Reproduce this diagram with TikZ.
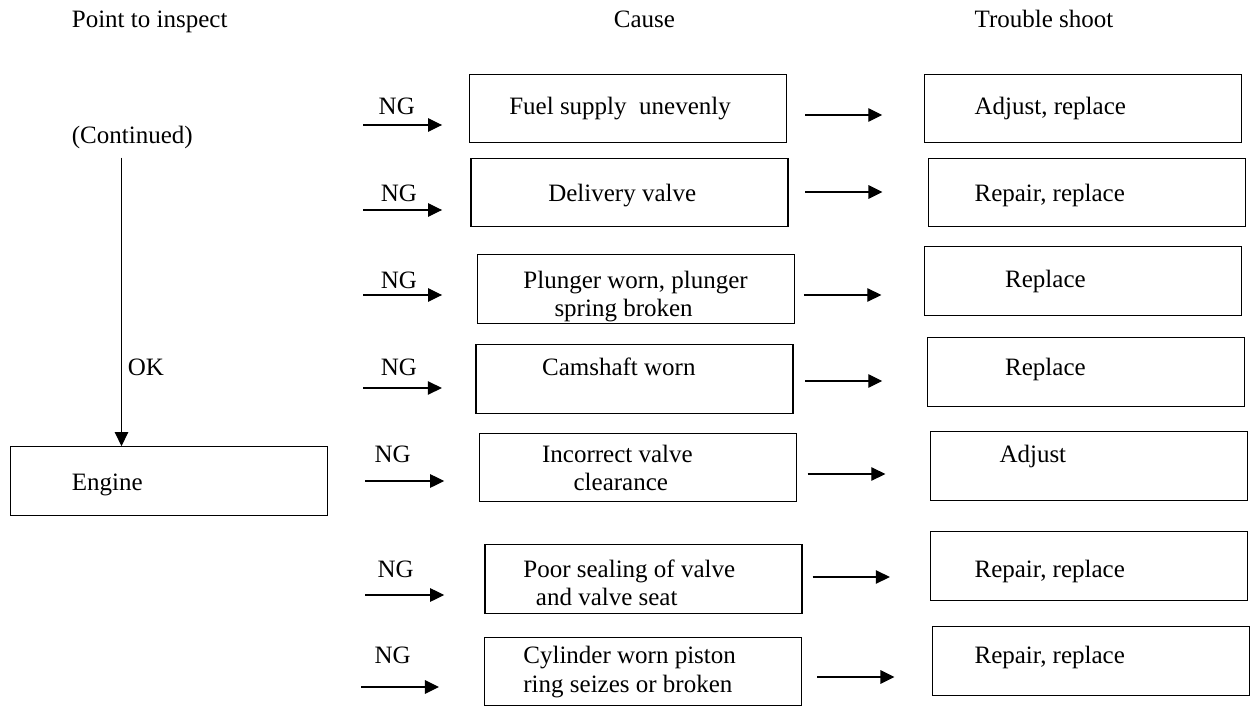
\documentclass[tikz,border=0pt]{standalone}
\usepackage{fontspec}
\setmainfont{Liberation Serif}
\usetikzlibrary{arrows.meta}
\begin{document}
\begin{tikzpicture}[x=1bp,y=-1bp,
  box/.style={draw,line width=1.3bp,minimum width=317bp,minimum height=68.5bp,inner sep=0pt},
  txt/.style={inner sep=0pt,anchor=base west,font=\fontsize{25bp}{28bp}\selectfont},
  arr/.style={line width=1.2bp,-{Triangle[length=14bp,width=13.5bp]}}]
\useasboundingbox (0,0) rectangle (1251,713);
% headers
\node[txt] (h1) at (71.7,28) {Point to inspect};
\node[txt] (h2) at (613.7,28) {Cause};
\node[txt] (h3) at (974.4,28) {Trouble shoot};
% left column
\node[txt] (contd) at (71.7,144) {(Continued)};
\node[box] (engine) at (169,481) {};
\node[txt] (enginet) at (71.7,490) {Engine};
\coordinate (vx) at (121.5,0);
\draw[arr] (contd.south -| vx) ++(0,8) -- (engine.north -| vx);
\node[txt] (ok) at (127.7,375) {OK};
% cause boxes
\node[box] (c1) at (628.2,108.5) {};
\node[box] (c2) at (629.4,192.5) {};
\node[box] (c3) at (636,289) {};
\node[box] (c4) at (634.6,379) {};
\node[box] (c5) at (638.1,467.5) {};
\node[box] (c6) at (643.5,579) {};
\node[box] (c7) at (643.3,671.5) {};
\node[txt] (c1t) at (509.1,115) {Fuel supply\ \ unevenly};
\node[txt] (c2t) at (548.1,202) {Delivery valve};
\node[txt] (c3t) at (523.2,288) {Plunger worn, plunger};
\node[txt] (c3u) at (554.3,316) {spring broken};
\node[txt] (c4t) at (541.9,375) {Camshaft worn};
\node[txt] (c5t) at (541.9,462) {Incorrect valve};
\node[txt] (c5u) at (573.4,490) {clearance};
\node[txt] (c6t) at (523.2,577) {Poor sealing of valve};
\node[txt] (c6u) at (535.7,605) {and valve seat};
\node[txt] (c7t) at (523.2,663) {Cylinder worn piston};
\node[txt] (c7u) at (523.2,692) {ring seizes or broken};
% trouble boxes
\node[box] (t1) at (1083.2,108.5) {};
\node[box] (t2) at (1086.8,192.5) {};
\node[box] (t3) at (1083.2,281) {};
\node[box] (t4) at (1085.7,372) {};
\node[box] (t5) at (1089.2,466) {};
\node[box] (t6) at (1089.2,566) {};
\node[box] (t7) at (1091.3,661) {};
\node[txt] (t1t) at (974.4,115) {Adjust, replace};
\node[txt] (t2t) at (974.4,202) {Repair, replace};
\node[txt] (t3t) at (1005,287) {Replace};
\node[txt] (t4t) at (1005,375) {Replace};
\node[txt] (t5t) at (999.3,462) {Adjust};
\node[txt] (t6t) at (974.4,577) {Repair, replace};
\node[txt] (t7t) at (974.4,663) {Repair, replace};
% NG labels
\node[txt] (ng1) at (378.5,115) {NG};
\node[txt] (ng2) at (380.6,202) {NG};
\node[txt] (ng3) at (380.6,288) {NG};
\node[txt] (ng4) at (380.6,375) {NG};
\node[txt] (ng5) at (374.4,462) {NG};
\node[txt] (ng6) at (377.3,577) {NG};
\node[txt] (ng7) at (374.4,663) {NG};
% NG arrows
\coordinate (n1) at (363,125);
\coordinate (n2) at (363,210);
\coordinate (n3) at (363,295);
\coordinate (n4) at (363,388);
\coordinate (n5) at (365.3,481);
\coordinate (n6) at (365.3,595);
\coordinate (n7) at (361.1,687);
\draw[arr] (n1) -- ([xshift=-27bp]n1 -| c1.west);
\draw[arr] (n2) -- ([xshift=-28.2bp]n2 -| c2.west);
\draw[arr] (n3) -- ([xshift=-34.8bp]n3 -| c3.west);
\draw[arr] (n4) -- ([xshift=-33.6bp]n4 -| c4.west);
\draw[arr] (n5) -- ([xshift=-34.8bp]n5 -| c5.west);
\draw[arr] (n6) -- ([xshift=-40.2bp]n6 -| c6.west);
\draw[arr] (n7) -- ([xshift=-45.2bp]n7 -| c7.west);
% cause -> trouble arrows
\coordinate (r1) at (0,115);
\coordinate (r2) at (0,192);
\coordinate (r3) at (0,295);
\coordinate (r4) at (0,381);
\coordinate (r5) at (0,474);
\coordinate (r6) at (0,577);
\coordinate (r7) at (0,677);
\draw[arr] ([xshift=17.8bp]c1.east |- r1) -- ([xshift=-41.8bp]t1.west |- r1);
\draw[arr] ([xshift=16.6bp]c2.east |- r2) -- ([xshift=-45.2bp]t2.west |- r2);
\draw[arr] ([xshift=8.7bp]c3.east |- r3) -- ([xshift=-42.7bp]t3.west |- r3);
\draw[arr] ([xshift=11.6bp]c4.east |- r4) -- ([xshift=-44.3bp]t4.west |- r4);
\draw[arr] ([xshift=10.4bp]c5.east |- r5) -- ([xshift=-44.7bp]t5.west |- r5);
\draw[arr] ([xshift=10bp]c6.east |- r6) -- ([xshift=-40.2bp]t6.west |- r6);
\draw[arr] ([xshift=14.9bp]c7.east |- r7) -- ([xshift=-37.7bp]t7.west |- r7);
\end{tikzpicture}
\end{document}
